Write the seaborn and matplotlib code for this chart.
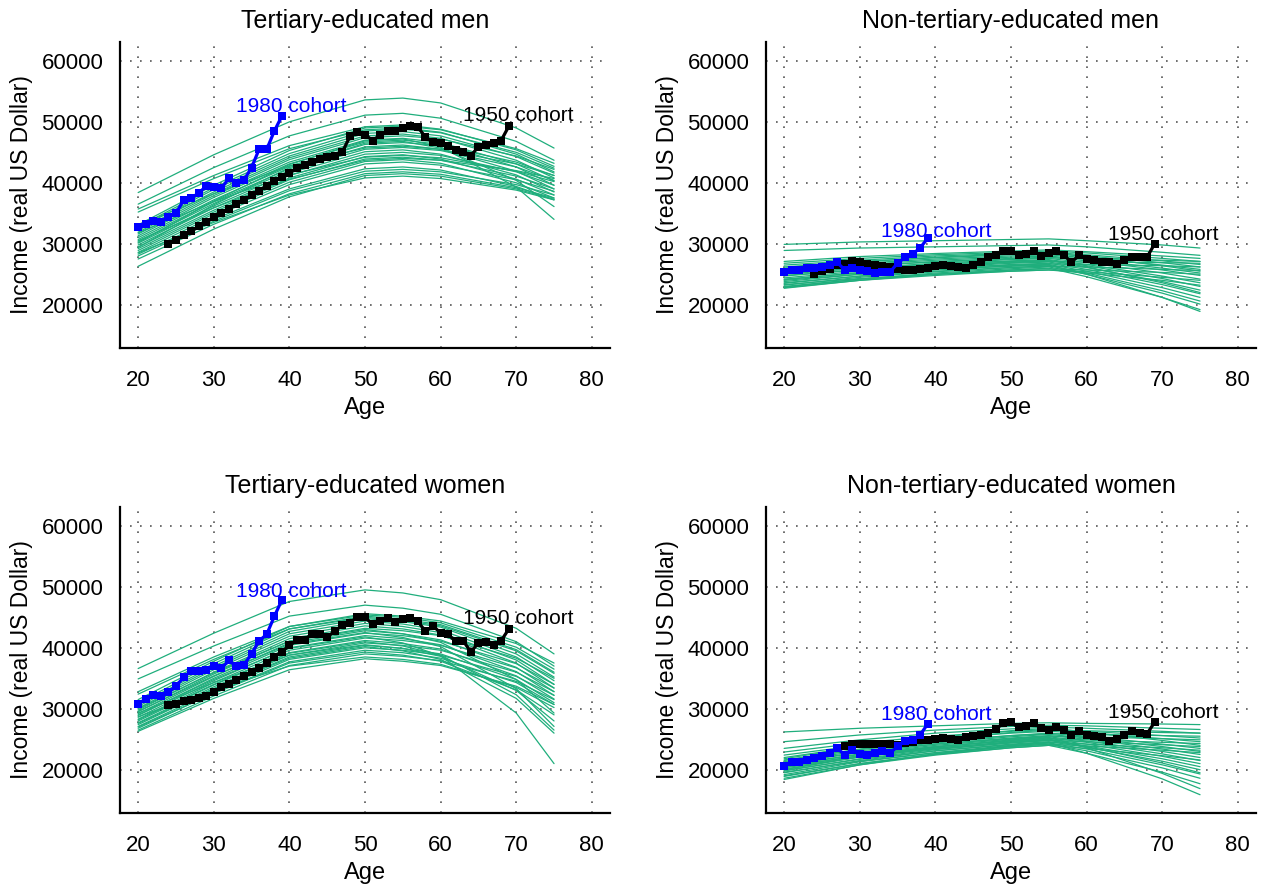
import numpy as np
import pandas as pd
import matplotlib
matplotlib.use("Agg")
import matplotlib.pyplot as plt
import seaborn as sns

sns.set_style("white")
plt.rcParams['font.family'] = ['Liberation Sans', 'DejaVu Sans']
plt.rcParams['text.color'] = 'black'
plt.rcParams['axes.labelcolor'] = 'black'
plt.rcParams['xtick.color'] = 'black'
plt.rcParams['ytick.color'] = 'black'

# ---------------- data ----------------
PANEL_TITLES = ["Tertiary-educated men", "Non-tertiary-educated men",
                "Tertiary-educated women", "Non-tertiary-educated women"]

AGE_GRID = [20, 30, 40, 50, 55, 60, 70, 75]

# profile curves (income at AGE_GRID ages), one row per curve
P1_CURVES = [
    [38400, 44600, 50000, 53600, 53900, 53100, 49000, 45700],
    [36500, 42500, 47700, 51100, 51400, 50600, 46800, 43700],
    [35700, 41200, 46100, 49200, 49500, 48800, 45400, 42700],
    [35200, 40700, 45600, 48700, 49000, 48300, 44700, 41800],
    [33100, 39600, 45300, 49000, 49300, 48700, 45600, 43200],
    [32800, 39200, 44800, 48500, 48800, 48200, 45000, 42400],
    [32500, 38900, 44400, 48100, 48400, 47700, 44300, 41600],
    [32200, 38500, 44100, 47700, 48000, 47300, 43700, 40800],
    [31900, 38200, 43800, 47400, 47700, 47200, 44400, 42200],
    [31600, 37900, 43400, 47000, 47300, 46600, 43100, 40300],
    [31300, 37600, 43100, 46700, 47000, 46300, 42600, 39600],
    [31000, 37200, 42700, 46300, 46600, 46100, 43400, 41200],
    [30700, 36900, 42300, 45900, 46200, 45500, 41900, 39000],
    [30400, 36600, 42000, 45500, 45800, 45300, 42600, 40400],
    [30100, 36200, 41600, 45100, 45400, 44700, 41300, 38500],
    [29800, 35900, 41200, 44700, 45000, 44500, 41800, 39600],
    [29500, 35500, 40800, 44300, 44600, 43900, 40600, 38000],
    [29200, 35200, 40500, 43900, 44200, 43700, 41100, 39000],
    [28900, 34900, 40100, 43500, 43800, 43200, 40000, 37500],
    [28600, 34500, 39700, 43100, 43400, 42900, 40500, 38600],
    [28300, 34000, 39000, 42300, 42600, 42100, 39400, 37200],
    [28000, 33700, 38700, 41900, 42200, 41800, 39700, 38000],
    [29400, 36400, 42500, 46500, 46800, 45700, 40400, 36100],
    [30200, 37000, 43000, 46900, 47200, 45900, 39300, 34000],
    [27500, 33200, 38200, 41500, 41800, 41400, 39200, 37500],
    [26300, 32400, 37700, 41200, 41500, 41100, 39000, 37300],
    [31800, 36900, 41300, 44200, 44500, 44100, 41900, 40200],
    [33000, 38200, 42800, 45700, 46000, 45500, 43100, 41200],
    [28500, 33500, 38000, 40800, 41100, 40700, 38800, 37200],
    [30500, 35900, 40600, 43700, 44000, 43700, 42000, 40700],
]

P2_CURVES = [
    [29900, 30300, 30500, 30700, 30800, 30500, 29800, 29300],
    [28900, 29300, 29500, 29700, 29800, 29500, 28600, 28100],
    [27100, 27900, 28400, 28800, 29000, 28700, 28000, 27600],
    [26800, 27600, 28200, 28600, 28800, 28500, 27600, 27100],
    [26500, 27300, 28000, 28400, 28600, 28200, 27200, 26600],
    [26200, 27100, 27700, 28200, 28400, 28000, 26900, 26200],
    [25900, 26800, 27500, 28000, 28200, 27700, 26500, 25800],
    [25600, 26600, 27300, 27800, 28000, 27400, 26000, 25200],
    [25300, 26300, 27100, 27600, 27800, 27200, 25700, 24800],
    [25000, 26000, 26800, 27400, 27600, 26900, 25200, 24200],
    [24700, 25800, 26600, 27200, 27400, 26600, 24700, 23600],
    [24400, 25500, 26400, 27000, 27200, 26400, 24300, 23000],
    [24100, 25300, 26100, 26800, 27000, 26100, 23800, 22400],
    [23800, 25000, 25900, 26600, 26800, 25800, 23300, 21800],
    [23500, 24700, 25700, 26400, 26600, 25500, 22800, 21200],
    [23200, 24500, 25400, 26100, 26400, 25200, 22300, 20600],
    [22900, 24200, 25200, 25900, 26200, 25000, 21900, 20100],
    [22700, 24000, 25000, 25700, 26000, 24600, 21200, 19200],
    [24800, 25700, 26400, 26900, 27100, 27000, 26900, 26800],
    [24200, 25200, 26000, 26500, 26700, 26600, 26400, 26200],
    [23600, 24700, 25500, 26100, 26300, 26200, 25800, 25600],
    [23000, 24200, 25000, 25700, 25900, 25700, 25300, 25000],
    [25500, 26400, 27000, 27500, 27700, 27600, 27300, 27100],
    [26000, 27000, 27800, 28300, 28500, 27900, 26400, 25500],
    [23300, 24300, 25000, 25500, 25700, 25400, 24500, 24000],
    [24000, 25000, 25800, 26300, 26500, 25000, 21200, 18900],
    [25200, 26000, 26700, 27100, 27300, 26200, 23600, 22000],
    [22800, 24000, 24800, 25500, 25700, 25200, 24000, 23200],
]

P3_CURVES = [
    [36600, 42400, 47600, 49500, 49000, 47900, 43200, 39000],
    [34900, 40300, 45200, 47000, 46500, 45500, 41000, 37000],
    [32800, 38500, 43500, 45400, 45000, 44100, 40100, 36500],
    [32400, 38100, 43100, 45000, 44500, 43600, 39500, 35800],
    [31000, 37400, 43100, 45200, 44700, 43800, 39700, 36000],
    [30700, 37000, 42700, 44800, 44300, 43400, 39000, 35200],
    [30400, 36700, 42300, 44400, 43900, 42900, 38500, 34600],
    [30100, 36400, 41900, 44000, 43500, 42500, 38000, 34000],
    [29800, 36000, 41500, 43600, 43100, 42100, 37500, 33400],
    [29500, 35700, 41100, 43200, 42800, 42000, 38300, 35000],
    [29200, 35300, 40800, 42800, 42300, 41300, 36800, 32800],
    [28900, 35000, 40400, 42400, 42000, 41100, 37400, 34000],
    [28600, 34600, 40000, 42000, 41500, 40500, 36100, 32200],
    [28300, 34300, 39600, 41600, 41200, 40400, 36700, 33400],
    [28000, 33900, 39200, 41200, 40700, 39800, 35400, 31600],
    [27700, 33600, 38800, 40800, 40400, 39600, 36000, 32800],
    [27400, 33300, 38500, 40400, 39900, 39000, 34800, 31000],
    [27100, 32900, 38100, 40000, 39600, 38800, 35300, 32200],
    [26800, 32600, 37700, 39600, 39200, 38300, 34300, 30700],
    [26500, 32100, 37100, 39000, 38600, 37900, 34500, 31500],
    [26300, 31700, 36400, 38200, 37800, 37100, 33700, 30700],
    [30000, 35900, 41100, 43000, 42300, 40900, 34800, 29300],
    [29600, 35400, 40600, 42500, 41700, 40200, 33300, 27100],
    [29000, 34800, 39900, 41800, 40800, 38700, 29300, 21000],
    [28200, 34000, 39100, 41000, 40300, 38800, 32300, 26500],
    [27600, 33300, 38300, 40200, 39500, 38100, 31700, 26000],
    [31500, 37800, 43500, 45600, 45200, 44400, 40700, 37500],
    [27000, 32500, 37500, 39300, 38800, 37800, 33100, 29000],
    [29300, 34300, 38800, 40500, 39900, 38600, 33000, 28000],
    [28700, 33100, 37000, 38500, 38100, 37300, 33500, 30200],
]

P4_CURVES = [
    [26200, 26800, 27200, 27600, 27700, 27600, 27500, 27400],
    [24600, 25700, 26500, 27100, 27300, 27200, 26800, 26600],
    [23500, 24900, 26000, 26700, 27000, 26800, 26300, 26000],
    [22900, 24400, 25500, 26300, 26600, 26300, 25600, 25200],
    [22400, 24000, 25100, 26000, 26300, 26000, 25100, 24600],
    [21600, 23400, 24700, 25600, 26000, 25500, 24200, 23500],
    [21300, 23100, 24400, 25400, 25800, 25200, 23800, 23000],
    [21000, 22800, 24200, 25200, 25600, 25000, 23400, 22500],
    [20700, 22600, 24000, 25000, 25400, 24700, 23000, 22000],
    [20400, 22300, 23800, 24800, 25200, 24500, 22600, 21500],
    [20100, 22100, 23500, 24600, 25000, 24200, 22200, 21000],
    [19800, 21800, 23300, 24400, 24800, 23900, 21800, 20500],
    [19500, 21500, 23100, 24200, 24600, 23700, 21400, 20000],
    [19200, 21300, 22800, 24000, 24400, 23400, 20800, 19300],
    [18900, 21000, 22600, 23800, 24200, 23100, 20300, 18600],
    [18600, 20800, 22400, 23600, 24000, 22700, 19600, 17700],
    [18400, 20800, 22600, 23900, 24400, 22700, 18500, 15900],
    [21500, 23300, 24600, 25600, 25900, 25800, 25600, 25500],
    [21100, 22900, 24200, 25100, 25500, 25400, 25100, 24900],
    [20700, 22500, 23800, 24700, 25100, 24900, 24500, 24300],
    [20300, 22100, 23400, 24400, 24800, 24600, 24100, 23800],
    [19900, 21700, 23100, 24100, 24500, 24200, 23600, 23200],
    [19600, 21400, 22800, 23800, 24200, 23900, 23200, 22800],
    [22000, 23800, 25100, 26100, 26500, 26400, 26100, 26000],
    [20000, 22100, 23700, 24900, 25300, 23600, 19400, 16900],
    [21800, 23800, 25300, 26400, 26800, 26200, 24800, 24000],
    [20500, 22300, 23600, 24500, 24900, 23800, 21100, 19500],
    [19000, 21000, 22500, 23600, 24000, 23500, 22300, 21600],
]

# observed cohorts
AGES_1980 = list(range(20, 40))
P1_1980 = [32680, 33170, 33660, 33610, 34370, 34970, 37160, 37430, 38360, 39400,
           39240, 39070, 40770, 39890, 40440, 42510, 45520, 45470, 48470, 50930]
P2_1980 = [25300, 25630, 25630, 26010, 26010, 26120, 26560, 26940, 25740, 26010,
           25630, 25470, 25190, 25300, 25360, 26830, 27760, 28310, 29350, 30930]
P3_1980 = [30770, 31640, 32190, 32020, 32680, 33720, 35140, 36180, 36180, 36400,
           36940, 36610, 37920, 36940, 37210, 39020, 41150, 42190, 45140, 47820]
P4_1980 = [20550, 21260, 21200, 21640, 21920, 22300, 22730, 23550, 22460, 23280,
           22630, 22460, 22730, 23010, 22730, 23830, 24760, 24810, 25740, 27540]

AGES_1950 = list(range(24, 70))
AGES_1950_P4 = list(range(28, 70))
P1_1950 = [29890, 30660, 31370, 32080, 32840, 33550, 34370, 35080, 35740, 36510,
           37220, 37930, 38690, 39510, 40220, 40930, 41640, 42350, 42900, 43440,
           43940, 44210, 44370, 45030, 47600, 48310, 47920, 46940, 47820, 48420,
           48470, 48960, 49290, 49130, 47490, 46670, 46610, 46120, 45410, 45080,
           44480, 45900, 46230, 46610, 46940, 49240]
P2_1950 = [25080, 25470, 25850, 26560, 26670, 27110, 26940, 26720, 26560, 26400,
           26180, 25850, 25740, 25740, 25900, 26070, 26290, 26450, 26290, 26120,
           26010, 26450, 26940, 27760, 28200, 28750, 28850, 28090, 28310, 28850,
           27930, 28470, 28750, 28090, 27000, 28090, 27540, 27270, 27000, 26940,
           26670, 27270, 27820, 27820, 27820, 30000]
P3_1950 = [30550, 30820, 31200, 31480, 31750, 32020, 32730, 33500, 34100, 34650,
           35300, 35960, 36610, 37490, 38470, 39350, 40380, 41200, 41310, 42300,
           42190, 41700, 42790, 43660, 44150, 45030, 45030, 43830, 44480, 44860,
           44260, 44700, 44970, 44320, 42680, 43610, 42410, 42190, 41040, 41090,
           39350, 40770, 40930, 40490, 41150, 43060]
P4_1950 = [23830, 24210, 24210, 24210, 24210, 24210, 24210, 23990, 24370, 24540,
           24810, 24920, 25080, 25190, 25030, 24920, 25300, 25580, 25740, 26010,
           26670, 27650, 27760, 26940, 27110, 27650, 26830, 26560, 26940, 26560,
           25740, 26400, 25630, 25470, 25300, 24760, 25080, 25740, 26400, 26010,
           25900, 27820]

LABEL_1980 = "1980 cohort"
LABEL_1950 = "1950 cohort"

X_TICKS = [20, 30, 40, 50, 60, 70, 80]
Y_TICKS = [20000, 30000, 40000, 50000, 60000]

# ---------------- drawing ----------------
GREEN = "#1fae7c"
W, H = 1262, 888
fig = plt.figure(figsize=(W / 100, H / 100), dpi=100)

# axes boxes in pixels: (left, top, right, bottom)
boxes = [(120, 42, 610, 348), (766, 42, 1256, 348),
         (120, 507, 610, 813), (766, 507, 1256, 813)]

panels = [
    (P1_CURVES, AGES_1950, P1_1950, P1_1980, (40.3, 52600), (70.3, 51000)),
    (P2_CURVES, AGES_1950, P2_1950, P2_1980, (40.1, 32000), (70.2, 31600)),
    (P3_CURVES, AGES_1950, P3_1950, P3_1980, (40.3, 49300), (70.3, 44750)),
    (P4_CURVES, AGES_1950_P4, P4_1950, P4_1980, (40.1, 29000), (70.2, 29350)),
]

for i, (curves, a1950, v1950, v1980, lab80, lab50) in enumerate(panels):
    l, t, r, b = boxes[i]
    ax = fig.add_axes([l / W, 1 - b / H, (r - l) / W, (b - t) / H])

    rows = []
    for cid, vals in enumerate(curves):
        for a, v in zip(AGE_GRID, vals):
            rows.append((cid, a, v))
    df = pd.DataFrame(rows, columns=["curve", "age", "income"])
    sns.lineplot(data=df, x="age", y="income", units="curve", estimator=None,
                 color=GREEN, lw=0.9, ax=ax, legend=False)

    sns.lineplot(x=a1950, y=v1950, color="black", lw=2.3, marker="s",
                 markersize=5.6, markeredgewidth=0, ax=ax)
    sns.lineplot(x=AGES_1980, y=v1980, color="blue", lw=2.3, marker="s",
                 markersize=5.6, markeredgewidth=0, ax=ax)

    ax.text(lab80[0], lab80[1], LABEL_1980, color="blue", fontsize=15,
            ha="center", va="center")
    ax.text(lab50[0], lab50[1], LABEL_1950, color="black", fontsize=15,
            ha="center", va="center")

    ax.set_xlim(17.6, 82.4)
    ax.set_ylim(12900, 63100)
    ax.set_xticks(X_TICKS)
    ax.set_yticks(Y_TICKS)
    ax.set_xticklabels([str(x) for x in X_TICKS])
    ax.set_yticklabels([str(y) for y in Y_TICKS])
    ax.grid(True, color="#555555", linestyle=(0, (1, 5)), lw=1.2)
    ax.set_axisbelow(True)
    for s in ["top", "right"]:
        ax.spines[s].set_visible(False)
    for s in ["left", "bottom"]:
        ax.spines[s].set_linewidth(1.6)
        ax.spines[s].set_color("black")
    ax.tick_params(axis="both", direction="out", length=8, width=1.4,
                   labelsize=16, color="black", labelcolor="black")
    ax.tick_params(axis="x", pad=8)
    ax.tick_params(axis="y", pad=4)
    ax.set_xlabel("Age", fontsize=17, labelpad=4)
    ax.set_ylabel("Income (real US Dollar)", fontsize=16.5, labelpad=6)
    ax.set_title(PANEL_TITLES[i], fontsize=18, pad=10, color="black")

fig.savefig("out.png", dpi=100)
